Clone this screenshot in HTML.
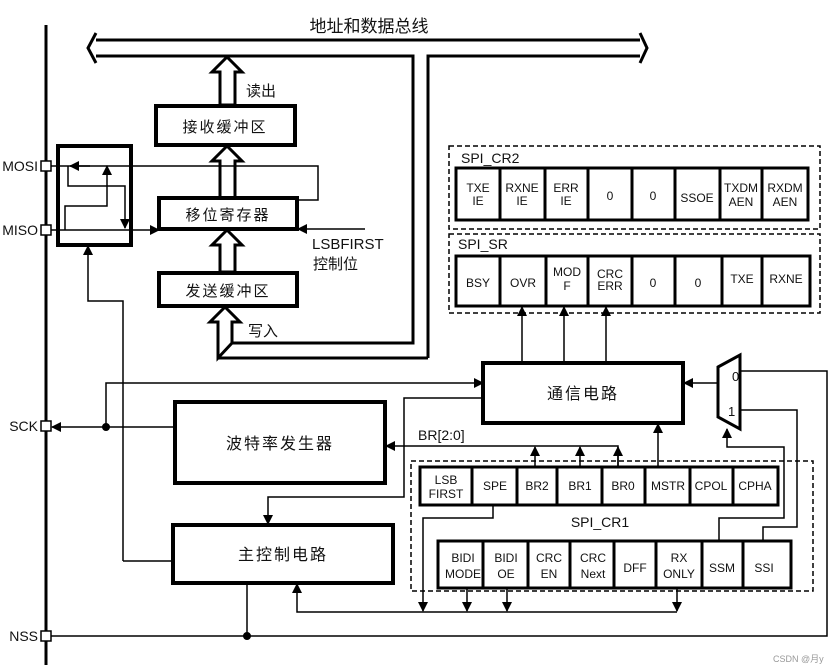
<!DOCTYPE html>
<html><head><meta charset="utf-8"><style>
html,body{margin:0;padding:0;background:#fff;}
svg{display:block;}
text{font-family:"Liberation Sans","Noto Sans CJK SC",sans-serif;fill:#111;}
.cj{font-family:"Noto Sans CJK SC","WenQuanYi Zen Hei",sans-serif;}
</style></head><body>
<svg width="840" height="672" viewBox="0 0 840 672" xmlns="http://www.w3.org/2000/svg">
<defs>
<marker id="a" markerWidth="10" markerHeight="10" refX="9" refY="5" orient="auto" markerUnits="userSpaceOnUse"><path d="M0,0 L10,5 L0,10 z" fill="#000"/></marker>
</defs>
<g stroke="#000" fill="none">
<!-- left bus -->
<line x1="46" y1="25" x2="46" y2="665" stroke-width="3"/>
<!-- top bus -->
<path d="M96,40 H640 M640,33 L647,48 L640,63 M96,33 L88,48 L96,63 M96,56 H413 V343 H232 M428,358 V56 H640" stroke-width="3"/>
<path d="M218,358 H428" stroke-width="3"/>
<path d="M218,358 V320" stroke-width="3"/>
<!-- hollow arrows -->
<polygon points="220,105 220,72 212,72 227,57 242,72 235,72 235,105" stroke-width="3" fill="#fff"/>
<polygon points="220,198 220,161 212,161 227,146 242,161 235,161 235,198" stroke-width="3" fill="#fff"/>
<polygon points="220,272 220,245 212,245 227,230 242,245 235,245 235,272" stroke-width="3" fill="#fff"/>
<polygon points="218,358 218,322 210,322 225,307 240,322 232,322 232,343" stroke-width="3" fill="#fff"/>
<!-- boxes -->
<rect x="156" y="106" width="139" height="39" stroke-width="4"/>
<rect x="159" y="198" width="138" height="31" stroke-width="4"/>
<rect x="159" y="273" width="138" height="33" stroke-width="4"/>
<rect x="58" y="146" width="73" height="99" stroke-width="4"/>
<rect x="175" y="402" width="210" height="81" stroke-width="4"/>
<rect x="173" y="525" width="220" height="58" stroke-width="4"/>
<rect x="483" y="363" width="200" height="60" stroke-width="4"/>
<!-- MOSI / MISO wires -->
<path d="M51,166 H318 V200 H297" stroke-width="1.5"/>
<line x1="90" y1="166" x2="70" y2="166" stroke-width="1.5" marker-end="url(#a)"/>
<path d="M68,166 V186 H125 V228" stroke-width="1.5" marker-end="url(#a)"/>
<path d="M65,230 V206 H107 V166" stroke-width="1.5" marker-end="url(#a)"/>
<line x1="51" y1="230" x2="159" y2="230" stroke-width="1.5" marker-end="url(#a)"/>
<line x1="365" y1="229" x2="298" y2="229" stroke-width="1.5" marker-end="url(#a)"/>
<path d="M123,561 V301 H88 V246" stroke-width="1.5" marker-end="url(#a)"/>
<path d="M123,561 H173" stroke-width="1.5"/>
<!-- SCK -->
<line x1="175" y1="427" x2="52" y2="427" stroke-width="1.5" marker-end="url(#a)"/>
<path d="M106,427 V383 H483" stroke-width="1.5" marker-end="url(#a)"/>
<circle cx="106" cy="427" r="3.5" fill="#000"/>
<!-- BR -->
<path d="M618,468 V446 H386" stroke-width="1.5" marker-end="url(#a)"/>
<line x1="535" y1="468" x2="535" y2="447" stroke-width="1.5" marker-end="url(#a)"/>
<line x1="580" y1="468" x2="580" y2="447" stroke-width="1.5" marker-end="url(#a)"/>
<line x1="618" y1="468" x2="618" y2="447" stroke-width="1.5" marker-end="url(#a)"/>
<line x1="658" y1="468" x2="658" y2="424" stroke-width="1.5" marker-end="url(#a)"/>
<path d="M483,398 H404 V497 H268 V524" stroke-width="1.5" marker-end="url(#a)"/>
<!-- to SR -->
<line x1="522" y1="363" x2="522" y2="307" stroke-width="1.5" marker-end="url(#a)"/>
<line x1="564" y1="363" x2="564" y2="307" stroke-width="1.5" marker-end="url(#a)"/>
<line x1="606" y1="363" x2="606" y2="307" stroke-width="1.5" marker-end="url(#a)"/>
<!-- MUX -->
<polygon points="718,367 740,355 740,429 718,417" stroke-width="3" fill="#fff"/>
<line x1="718" y1="383" x2="684" y2="383" stroke-width="1.5" marker-end="url(#a)"/>
<path d="M740,371 H827 V636 H51" stroke-width="1.5"/>
<path d="M740,410 H797 V527 H763 V541" stroke-width="1.5"/>
<path d="M719,541 V518 H784 V447 H727 V429" stroke-width="1.5" marker-end="url(#a)"/>
<!-- NSS -->
<line x1="247" y1="583" x2="247" y2="636" stroke-width="1.5"/>
<circle cx="247" cy="636" r="3.5" fill="#000"/>
<!-- bottom control line -->
<path d="M677,612 H297 V584" stroke-width="1.5" marker-end="url(#a)"/>
<path d="M493,505 V518 H423 V611" stroke-width="1.5" marker-end="url(#a)"/>
<line x1="467" y1="588" x2="467" y2="611" stroke-width="1.5" marker-end="url(#a)"/>
<line x1="507" y1="588" x2="507" y2="611" stroke-width="1.5" marker-end="url(#a)"/>
<line x1="677" y1="588" x2="677" y2="611" stroke-width="1.5" marker-end="url(#a)"/>
<!-- pins -->
<rect x="41" y="161" width="10" height="10" stroke-width="1.5" fill="#fff"/>
<rect x="41" y="225" width="10" height="10" stroke-width="1.5" fill="#fff"/>
<rect x="41" y="421" width="10" height="10" stroke-width="1.5" fill="#fff"/>
<rect x="41" y="631" width="10" height="10" stroke-width="1.5" fill="#fff"/>
<!-- dashed boxes -->
<rect x="449" y="146" width="371" height="83" stroke-width="1.5" stroke-dasharray="5,3"/>
<rect x="449" y="234" width="371" height="79" stroke-width="1.5" stroke-dasharray="5,3"/>
<rect x="411" y="461" width="402" height="130" stroke-width="1.5" stroke-dasharray="5,3"/>
<!-- registers -->
<rect x="456" y="168" width="352" height="52" stroke-width="3"/>
<path d="M500,168V220M545,168V220M588,168V220M632,168V220M675,168V220M720,168V220M762,168V220" stroke-width="3"/>
<rect x="456" y="256" width="354" height="50" stroke-width="3"/>
<path d="M500,256V306M546,256V306M588,256V306M632,256V306M675,256V306M722,256V306M762,256V306" stroke-width="3"/>
<rect x="420" y="467" width="358" height="38" stroke-width="3"/>
<path d="M472,467V505M517,467V505M557,467V505M602,467V505M645,467V505M690,467V505M733,467V505" stroke-width="3"/>
<rect x="438" y="541" width="353" height="47" stroke-width="3"/>
<path d="M483,541V588M528,541V588M570,541V588M614,541V588M656,541V588M702,541V588M743,541V588" stroke-width="3"/>
</g>
<!-- text -->
<g font-size="17" class="cj">
<text x="369" y="32" text-anchor="middle" class="cj">地址和数据总线</text>
<text x="246" y="96" font-size="15" class="cj">读出</text>
<text x="225" y="132" text-anchor="middle" font-size="15" letter-spacing="2" class="cj">接收缓冲区</text>
<text x="228" y="220" text-anchor="middle" font-size="15" letter-spacing="2" class="cj">移位寄存器</text>
<text x="228" y="296" text-anchor="middle" font-size="15" letter-spacing="2" class="cj">发送缓冲区</text>
<text x="248" y="336" font-size="15" class="cj">写入</text>
<text x="313" y="269" font-size="15" class="cj">控制位</text>
<text x="280" y="449" text-anchor="middle" font-size="16" letter-spacing="2" class="cj">波特率发生器</text>
<text x="283" y="560" text-anchor="middle" font-size="16" letter-spacing="2" class="cj">主控制电路</text>
<text x="583" y="399" text-anchor="middle" font-size="16" letter-spacing="2" class="cj">通信电路</text>
</g>
<g font-size="14">
<text x="38" y="171" text-anchor="end">MOSI</text>
<text x="38" y="235" text-anchor="end">MISO</text>
<text x="38" y="431" text-anchor="end">SCK</text>
<text x="38" y="641" text-anchor="end">NSS</text>
<text x="312" y="249" font-size="15">LSBFIRST</text>
<text x="418" y="440" font-size="14">BR[2:0]</text>
<text x="461" y="163" font-size="14">SPI_CR2</text>
<text x="458" y="249" font-size="14">SPI_SR</text>
<text x="600" y="527" text-anchor="middle" font-size="14">SPI_CR1</text>
<text x="732" y="381" font-size="13">0</text>
<text x="728" y="416" font-size="13">1</text>
</g>
<g font-size="12" text-anchor="middle">
<text x="478" y="192">TXE</text><text x="478" y="205">IE</text>
<text x="522" y="192">RXNE</text><text x="522" y="205">IE</text>
<text x="566" y="192">ERR</text><text x="566" y="205">IE</text>
<text x="610" y="200">0</text><text x="653" y="200">0</text>
<text x="697" y="202">SSOE</text>
<text x="741" y="192">TXDM</text><text x="741" y="206">AEN</text>
<text x="785" y="192">RXDM</text><text x="785" y="206">AEN</text>
<text x="478" y="287">BSY</text>
<text x="523" y="287">OVR</text>
<text x="567" y="276">MOD</text><text x="567" y="290">F</text>
<text x="610" y="278">CRC</text><text x="610" y="290">ERR</text>
<text x="653" y="287">0</text><text x="698" y="287">0</text>
<text x="742" y="283">TXE</text><text x="786" y="283">RXNE</text>
<text x="446" y="484">LSB</text><text x="446" y="498">FIRST</text>
<text x="495" y="490">SPE</text>
<text x="537" y="490">BR2</text>
<text x="580" y="490">BR1</text>
<text x="623" y="490">BR0</text>
<text x="668" y="490">MSTR</text>
<text x="711" y="490">CPOL</text>
<text x="755" y="490">CPHA</text>
<text x="463" y="562">BIDI</text><text x="463" y="578">MODE</text>
<text x="506" y="562">BIDI</text><text x="506" y="578">OE</text>
<text x="549" y="562">CRC</text><text x="549" y="578">EN</text>
<text x="593" y="562">CRC</text><text x="593" y="578">Next</text>
<text x="635" y="572">DFF</text>
<text x="679" y="562">RX</text><text x="679" y="578">ONLY</text>
<text x="722" y="572">SSM</text>
<text x="764" y="572">SSI</text>
</g>
<text x="773" y="662" font-size="9" fill="#999" style="fill:#999">CSDN @月y</text>
</svg>
</body></html>
